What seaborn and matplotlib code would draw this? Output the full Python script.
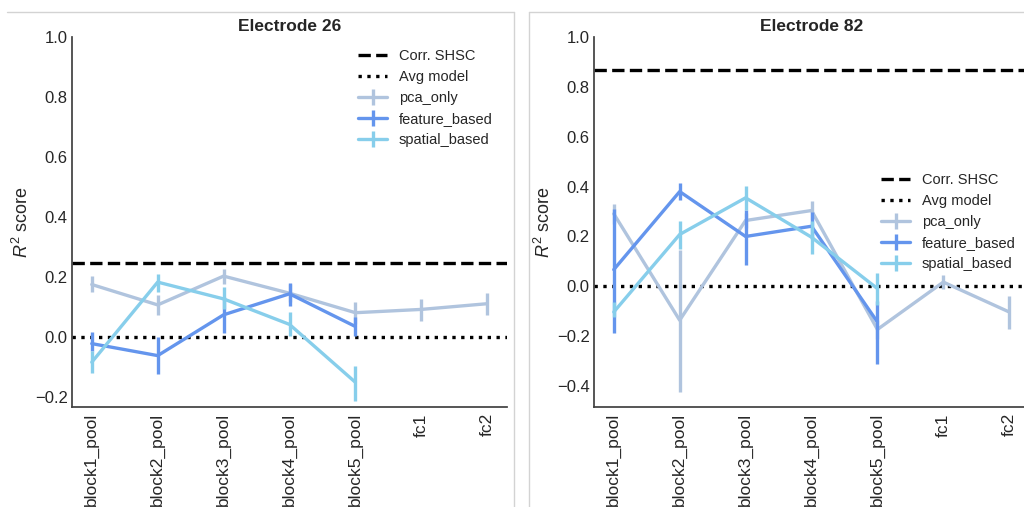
import numpy as np
import matplotlib
matplotlib.use("Agg")
import matplotlib.pyplot as plt
from matplotlib.lines import Line2D
import seaborn as sns

# ---- data -------------------------------------------------------------
layers = ["block1_pool", "block2_pool", "block3_pool", "block4_pool",
          "block5_pool", "fc1", "fc2"]
models = ["pca_only", "feature_based", "spatial_based"]

# Electrode 26
e26_shsc = 0.247
e26_pca_mean = [0.175, 0.107, 0.203, 0.146, 0.081, 0.092, 0.111]
e26_pca_lo = [0.149, 0.074, 0.177, 0.116, 0.044, 0.055, 0.075]
e26_pca_hi = [0.203, 0.141, 0.227, 0.176, 0.118, 0.127, 0.147]
e26_feat_mean = [-0.022, -0.062, 0.074, 0.144, 0.035]
e26_feat_lo = [-0.045, -0.123, 0.014, 0.105, 0.002]
e26_feat_hi = [0.016, 0.000, 0.134, 0.181, 0.066]
e26_spat_mean = [-0.084, 0.183, 0.127, 0.042, -0.151]
e26_spat_lo = [-0.119, 0.149, 0.094, 0.002, -0.214]
e26_spat_hi = [-0.045, 0.211, 0.166, 0.083, -0.095]

# Electrode 82
e82_shsc = 0.869
e82_pca_mean = [0.291, -0.136, 0.264, 0.304, -0.173, 0.017, -0.103]
e82_pca_lo = [0.251, -0.423, 0.234, 0.267, -0.210, -0.009, -0.172]
e82_pca_hi = [0.331, 0.144, 0.294, 0.341, -0.136, 0.044, -0.039]
e82_feat_mean = [0.067, 0.380, 0.200, 0.241, -0.143]
e82_feat_lo = [-0.189, 0.347, 0.087, 0.190, -0.313]
e82_feat_hi = [0.311, 0.415, 0.307, 0.300, -0.060]
e82_spat_mean = [-0.103, 0.208, 0.355, 0.197, -0.009]
e82_spat_lo = [-0.123, 0.151, 0.306, 0.131, -0.076]
e82_spat_hi = [-0.063, 0.261, 0.404, 0.263, 0.053]

colors = {"pca_only": "#b0c4de", "feature_based": "#6495ed",
          "spatial_based": "#87ceeb"}

panels = [
    dict(title="Electrode 26", shsc=e26_shsc, ylim=(-0.2333, 1.0),
         yticks=[-0.2, 0.0, 0.2, 0.4, 0.6, 0.8, 1.0],
         series={"pca_only": (e26_pca_mean, e26_pca_lo, e26_pca_hi),
                 "feature_based": (e26_feat_mean, e26_feat_lo, e26_feat_hi),
                 "spatial_based": (e26_spat_mean, e26_spat_lo, e26_spat_hi)},
         legend_xy=(358, 49)),
    dict(title="Electrode 82", shsc=e82_shsc, ylim=(-0.484, 1.0),
         yticks=[-0.4, -0.2, 0.0, 0.2, 0.4, 0.6, 0.8, 1.0],
         series={"pca_only": (e82_pca_mean, e82_pca_lo, e82_pca_hi),
                 "feature_based": (e82_feat_mean, e82_feat_lo, e82_feat_hi),
                 "spatial_based": (e82_spat_mean, e82_spat_lo, e82_spat_hi)},
         legend_xy=(881, 173)),
]

# ---- style ------------------------------------------------------------
sns.set_style("white")
plt.rcParams["font.family"] = ["Liberation Sans", "DejaVu Sans"]
plt.rcParams["mathtext.fontset"] = "custom"
plt.rcParams["mathtext.rm"] = "Liberation Sans"
plt.rcParams["mathtext.it"] = "Liberation Sans:italic"

W, H = 1024, 507
fig = plt.figure(figsize=(W / 100, H / 100), dpi=100)


def fx(x):
    return x / W


def fy(y):
    return 1 - y / H


# panel frames
frame_kw = dict(transform=fig.transFigure, color="#d3d3d3", lw=1.0)
fig.add_artist(Line2D([fx(7), fx(514)], [fy(11.5), fy(11.5)], **frame_kw))
fig.add_artist(Line2D([fx(514), fx(514)], [fy(11.5), 0], **frame_kw))
fig.add_artist(Line2D([fx(529), 1], [fy(11.5), fy(11.5)], **frame_kw))
fig.add_artist(Line2D([fx(529), fx(529)], [fy(11.5), 0], **frame_kw))

LW = 2.4
axes_left_px = [72, 594]
for p, left_px in zip(panels, axes_left_px):
    ax = fig.add_axes([fx(left_px), fy(407), 435 / W, 370 / H])
    ax.axhline(p["shsc"], color="black", ls="--", lw=LW, zorder=1)
    ax.axhline(0.0, color="black", ls=":", lw=LW, zorder=1)
    for m in models:
        mean, lo, hi = p["series"][m]
        xs = np.arange(len(mean))
        sns.lineplot(x=xs, y=mean, color=colors[m], lw=LW, ax=ax,
                     legend=False, zorder=2)
        ax.vlines(xs, lo, hi, color=colors[m], lw=LW, zorder=2)
    ax.set_xlim(-0.3, 6.3)
    ax.set_ylim(*p["ylim"])
    ax.set_yticks(p["yticks"])
    ax.set_yticklabels([f"{t:.1f}".replace("-", "\u2212") for t in p["yticks"]])
    ax.set_xticks(np.arange(len(layers)))
    ax.set_xticklabels(layers, rotation=90)
    ax.tick_params(axis="both", colors=".15", length=0)
    ax.tick_params(axis="y", pad=3, labelsize=12)
    ax.tick_params(axis="x", pad=4.5, labelsize=12.5)
    ax.set_ylabel(r"$R^2$ score", fontsize=13, color=".15")
    ax.yaxis.set_label_coords(-0.093, 0.5)
    ax.set_xlabel("")
    ax.set_title(p["title"], fontsize=12.5, fontweight="bold", pad=4)
    sns.despine(ax=ax)
    for s in ("left", "bottom"):
        ax.spines[s].set_color(".25")
        ax.spines[s].set_linewidth(1.25)

    handles = [
        Line2D([], [], color="black", ls="--", lw=LW),
        Line2D([], [], color="black", ls=":", lw=LW),
    ] + [Line2D([], [], color=colors[m], lw=LW, marker="|", markersize=12,
                markeredgewidth=LW) for m in models]
    labels = ["Corr. SHSC", "Avg model"] + models
    lx, ly = p["legend_xy"]
    ax.legend(handles, labels, loc="upper left",
              bbox_to_anchor=(fx(lx), fy(ly)), bbox_transform=fig.transFigure,
              frameon=False, fontsize=10.5, borderaxespad=0, borderpad=0,
              handlelength=2.0, handletextpad=0.8, labelspacing=0.48)

fig.savefig("out.png", dpi=100)
